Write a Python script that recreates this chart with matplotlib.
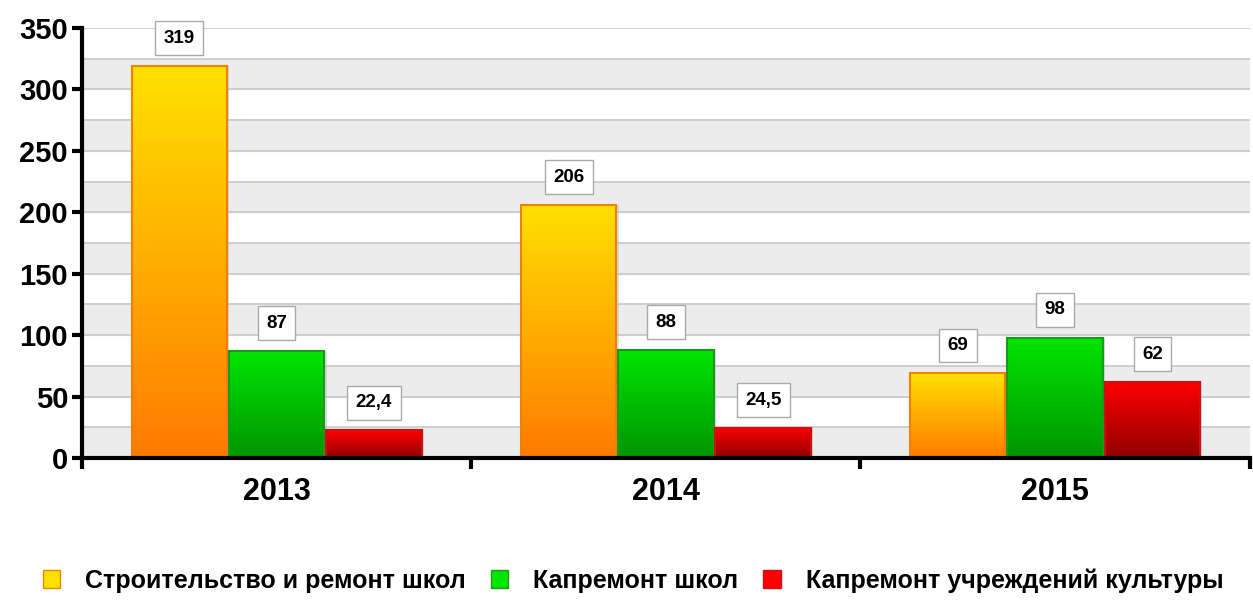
import matplotlib.pyplot as plt
import matplotlib.patches as mpatches
from matplotlib.colors import LinearSegmentedColormap
import numpy as np

plt.rcParams['font.family'] = ['Liberation Sans', 'DejaVu Sans']

# === данные ===
years = ["2013", "2014", "2015"]
series_names = ["Строительство и ремонт школ", "Капремонт школ", "Капремонт учреждений культуры"]
schools_build = [319, 206, 69]
schools_repair = [87, 88, 98]
culture_repair = [22.4, 24.5, 62]
value_labels = [["319", "206", "69"], ["87", "88", "98"], ["22,4", "24,5", "62"]]

series = [schools_build, schools_repair, culture_repair]
# (верх, низ) градиента, цвет рамки
grad_colors = [("#ffe000", "#ff7a00", "#f08000"),
               ("#00e600", "#009400", "#1a9a1a"),
               ("#ff0000", "#900000", "#d01010")]

fig = plt.figure(figsize=(12.53, 6.03), dpi=100)
ax = fig.add_axes([0.0654, 0.2405, 0.932, 0.713])

ax.set_xlim(0, 3)
ax.set_ylim(0, 350)

# полосы фона
for lo in range(0, 350, 50):
    ax.axhspan(lo, lo + 25, color="#ececec", zorder=0)
for y in range(25, 351, 25):
    ax.axhline(y, color="#c8c8c8", lw=1.2, zorder=0.5)

width = 0.245
offsets = [-0.25, 0.0, 0.25]
centers = np.arange(len(years)) + 0.5

for s, vals in enumerate(series):
    top, bottom, edge = grad_colors[s]
    cmap = LinearSegmentedColormap.from_list("g%d" % s, [bottom, top])
    bars = ax.bar(centers + offsets[s], vals, width=width, facecolor="none",
                  edgecolor=edge, lw=1.5, zorder=3)
    for b, v, lab in zip(bars, vals, value_labels[s]):
        x0 = b.get_x()
        # тень справа
        ax.add_patch(mpatches.Rectangle((x0 + 0.006, 0), width, v, color="#bbbbbb",
                                        alpha=0.5, zorder=1.5, lw=0))
        grad = np.linspace(0, 1, 256).reshape(-1, 1)
        im = ax.imshow(grad, cmap=cmap, origin="lower", aspect="auto",
                       extent=(x0, x0 + width, 0, v), zorder=2)
        im.set_clip_path(b)
        ax.annotate(lab, (x0 + width / 2, v), xytext=(0, 20), textcoords="offset points",
                    ha="center", va="center", fontsize=13.5, fontweight="bold",
                    bbox=dict(boxstyle="square,pad=0.45", fc="white", ec="#aaaaaa", lw=1),
                    zorder=5)

# оси
for side in ["top", "right"]:
    ax.spines[side].set_visible(False)
ax.spines["left"].set_linewidth(3)
ax.spines["bottom"].set_linewidth(3)
ax.spines["left"].set_zorder(6)
ax.spines["bottom"].set_zorder(6)

ax.set_yticks(range(0, 351, 50))
ax.set_yticklabels([str(v) for v in range(0, 351, 50)], fontsize=21, fontweight="bold")
ax.tick_params(axis="y", length=7, width=3, direction="out", pad=3)

ax.set_xticks([0, 1, 2, 3])
ax.set_xticklabels([])
ax.tick_params(axis="x", length=8, width=3, direction="out")
for c, yr in zip(centers, years):
    ax.text(c, -0.08, yr, transform=ax.get_xaxis_transform(), ha="center", va="center",
            fontsize=22, fontweight="bold")

handles = [mpatches.Patch(facecolor=grad_colors[i][0], edgecolor=grad_colors[i][2],
                          label=series_names[i]) for i in range(3)]
fig.legend(handles=handles, loc="center left", bbox_to_anchor=(0.016, 0.037), ncol=3,
           frameon=False, prop={"size": 18, "weight": "bold"}, handlelength=0.7,
           handleheight=0.7, columnspacing=1.0, handletextpad=1.0)

plt.savefig("out.png", dpi=100)
plt.close()
